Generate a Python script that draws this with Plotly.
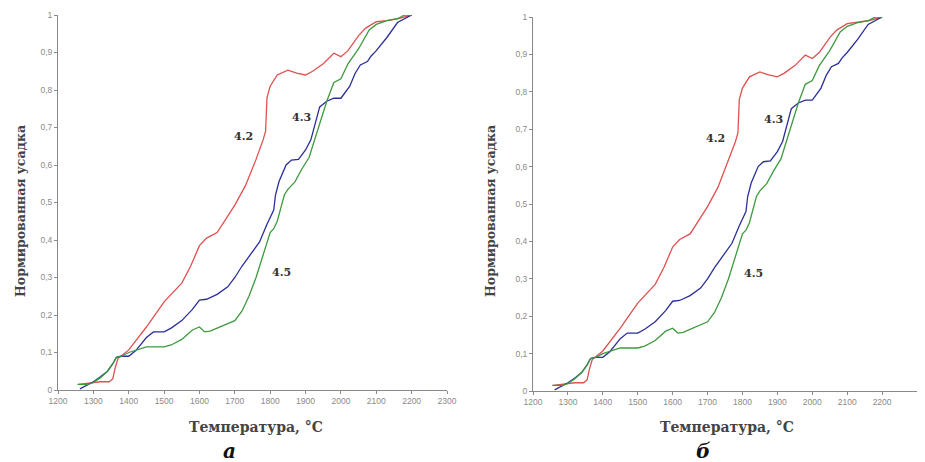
import plotly.graph_objects as go

# ---- data ----
t_42 = [1258, 1280, 1300, 1320, 1345, 1355, 1362, 1370, 1378, 1400, 1450, 1500, 1550, 1575, 1600,
        1620, 1650, 1700, 1730, 1760, 1780, 1787, 1791, 1800, 1820, 1850, 1875, 1900, 1920,
        1950, 1980, 2000, 2020, 2050, 2070, 2100, 2130, 2160, 2200]
s_42 = [0.015, 0.017, 0.02, 0.022, 0.022, 0.03, 0.06, 0.085, 0.09, 0.107, 0.168, 0.235, 0.285, 0.33, 0.385,
        0.405, 0.42, 0.493, 0.545, 0.615, 0.667, 0.69, 0.78, 0.81, 0.84, 0.853, 0.845, 0.84, 0.85,
        0.87, 0.898, 0.889, 0.905, 0.945, 0.965, 0.982, 0.985, 0.99, 1.0]

t_43 = [1262, 1280, 1300, 1320, 1340, 1355, 1365, 1378, 1400, 1420, 1450, 1470, 1500, 1520, 1550,
        1580, 1600, 1620, 1650, 1680, 1700, 1720, 1750, 1770, 1790, 1810, 1815, 1825, 1845, 1860,
        1880, 1900, 1915, 1925, 1940, 1960, 1980, 2000, 2010, 2025, 2040, 2055, 2075, 2085,
        2100, 2130, 2160, 2180, 2200]
s_43 = [0.003, 0.012, 0.022, 0.035, 0.05, 0.07, 0.087, 0.09, 0.09, 0.105, 0.14, 0.155, 0.155, 0.165, 0.185,
        0.215, 0.24, 0.242, 0.255, 0.275, 0.30, 0.33, 0.37, 0.395, 0.44, 0.48, 0.52, 0.556, 0.60, 0.613,
        0.615, 0.64, 0.667, 0.70, 0.755, 0.77, 0.778, 0.778, 0.79, 0.81, 0.844, 0.867, 0.876, 0.89,
        0.905, 0.94, 0.98, 0.99, 1.0]

t_45 = [1255, 1285, 1300, 1320, 1340, 1355, 1365, 1380, 1400, 1430, 1450, 1500, 1520, 1550, 1580,
        1600, 1615, 1630, 1650, 1680, 1700, 1720, 1740, 1760, 1775, 1790, 1800, 1810, 1820, 1840,
        1850, 1870, 1890, 1910, 1930, 1945, 1960, 1980, 2000, 2020, 2050, 2080, 2100, 2130,
        2160, 2180, 2200]
s_45 = [0.015, 0.015, 0.02, 0.033, 0.05, 0.07, 0.087, 0.09, 0.10, 0.11, 0.115, 0.115, 0.12, 0.135, 0.16,
        0.168, 0.155, 0.157, 0.165, 0.175, 0.185, 0.21, 0.25, 0.30, 0.345, 0.385, 0.42, 0.43, 0.45, 0.52,
        0.535, 0.555, 0.59, 0.62, 0.68, 0.73, 0.77, 0.82, 0.83, 0.87, 0.91, 0.96, 0.975, 0.985,
        0.99, 1.0, 1.0]

series = [("4.2", t_42, s_42, "#e0504f"),
          ("4.3", t_43, s_43, "#2b2f95"),
          ("4.5", t_45, s_45, "#3d9a3d")]

curve_labels = ["4.2", "4.3", "4.5"]
label_x = [1724, 1889, 1832]
label_y = [0.676, 0.727, 0.313]

x_ticks = [1200, 1300, 1400, 1500, 1600, 1700, 1800, 1900, 2000, 2100, 2200, 2300]
y_ticks = [0, 0.1, 0.2, 0.3, 0.4, 0.5, 0.6, 0.7, 0.8, 0.9, 1.0]
y_tick_text = ["0", "0,1", "0,2", "0,3", "0,4", "0,5", "0,6", "0,7", "0,8", "0,9", "1"]

x_title = "Температура, °С"
y_title = "Нормированная усадка"
panel_names = ["а", "б"]

# ---- figure ----
OFF = 8  # page body margin
W, H = 925 - OFF, 462 - OFF


def px(v):
    return (v - OFF) / W


def py(v):
    return 1 - (v - OFF) / H


panels = [
    dict(xd=[px(58), px(447)], yd=[py(390), py(15)], ax="x", ay="y", yt_x=20, xt_x=256, nm_x=229),
    dict(xd=[px(533), px(917)], yd=[py(391), py(17)], ax="x2", ay="y2", yt_x=490, xt_x=727, nm_x=703),
]

serif = "DejaVu Serif, Liberation Serif, serif"
fig = go.Figure()

for i, p in enumerate(panels):
    for name, t, s, col in series:
        fig.add_trace(go.Scatter(x=t, y=s, mode="lines", name=name, showlegend=False,
                                 line=dict(color=col, width=1.3),
                                 xaxis=p["ax"], yaxis=p["ay"]))
    for lab, lx, ly in zip(curve_labels, label_x, label_y):
        fig.add_annotation(x=lx, y=ly, xref=p["ax"], yref=p["ay"], text="<b>%s</b>" % lab,
                           showarrow=False, xanchor="center", yanchor="middle",
                           font=dict(family=serif, size=11, color="#333333"))
    fig.add_annotation(x=px(p["xt_x"]), y=py(427), xref="paper", yref="paper",
                       text="<b>%s</b>" % x_title, showarrow=False,
                       xanchor="center", yanchor="middle",
                       font=dict(family=serif, size=14, color="#444444"))
    fig.add_annotation(x=px(p["yt_x"]), y=py(211), xref="paper", yref="paper",
                       text="<b>%s</b>" % y_title, showarrow=False, textangle=-90,
                       xanchor="center", yanchor="middle",
                       font=dict(family=serif, size=12.5, color="#444444"))
    fig.add_annotation(x=px(p["nm_x"]), y=py(451), xref="paper", yref="paper",
                       text="<i><b>%s</b></i>" % panel_names[i], showarrow=False,
                       xanchor="center", yanchor="middle",
                       font=dict(family=serif, size=20, color="#111111"))

axis_common = dict(showgrid=False, zeroline=False, showline=True, linecolor="#8a8a8a",
                   linewidth=1, ticks="outside", ticklen=3, tickcolor="#8a8a8a",
                   tickfont=dict(family="Liberation Sans, Arial, sans-serif", size=8.5, color="#8a8a8a"),
                   automargin=False)

for i, p in enumerate(panels):
    sfx = "" if i == 0 else "2"
    fig.update_layout(**{
        "xaxis" + sfx: dict(domain=p["xd"], range=[1200, 2300], tickvals=x_ticks,
                            anchor="y" + sfx, **axis_common),
        "yaxis" + sfx: dict(domain=p["yd"], range=[0, 1], tickvals=y_ticks, ticktext=y_tick_text,
                            anchor="x" + sfx, **axis_common),
    })

fig.update_layout(width=W, height=H, margin=dict(l=0, r=0, t=0, b=0),
                  paper_bgcolor="white", plot_bgcolor="white", template="none",
                  showlegend=False)

fig.write_html("out.html")
